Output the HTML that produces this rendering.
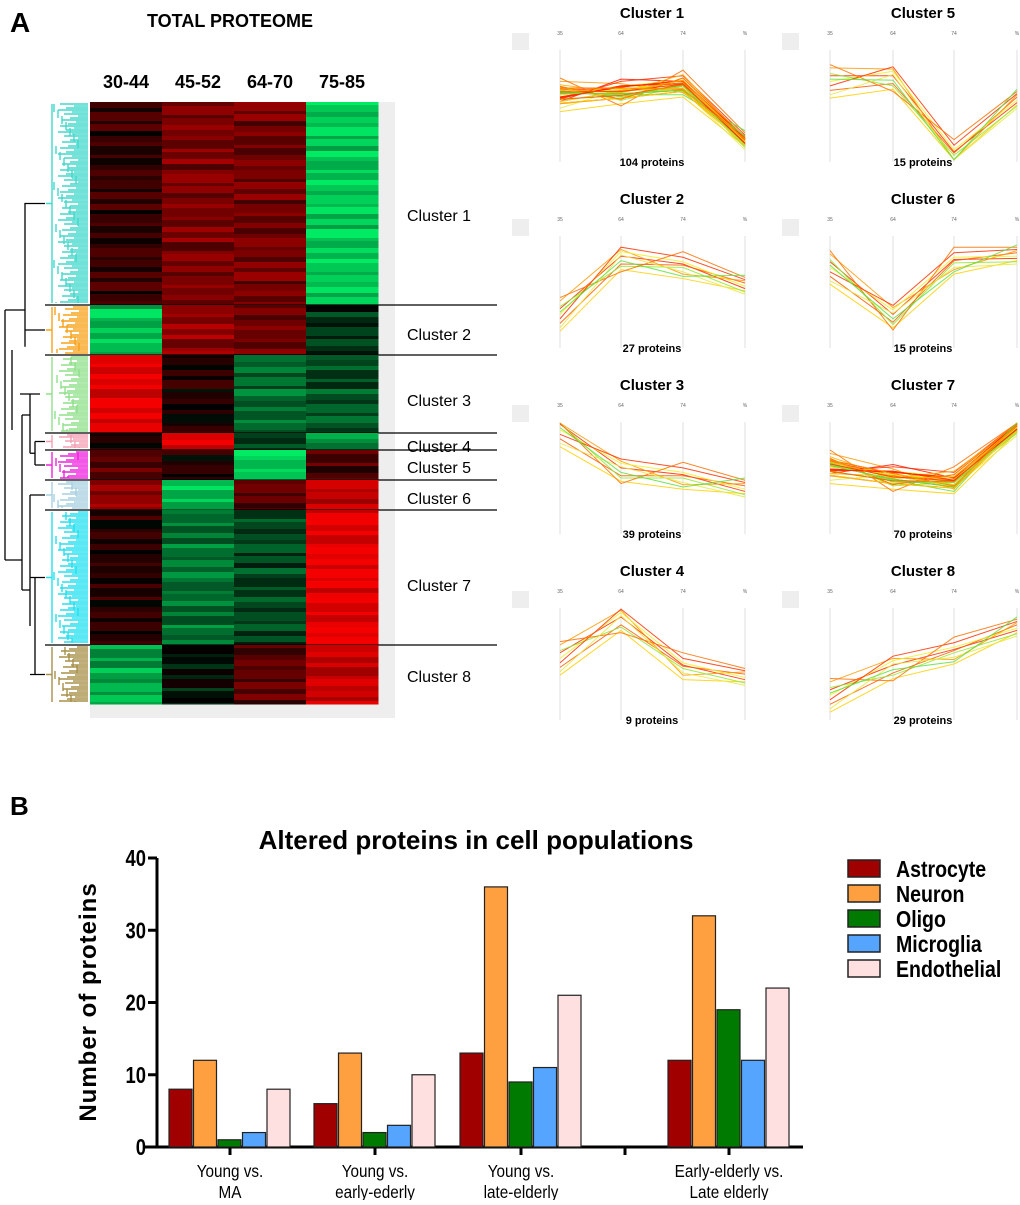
<!DOCTYPE html>
<html><head><meta charset="utf-8"><style>
body{margin:0;background:#fff}
svg text{font-family:"Liberation Sans",sans-serif}
</style></head><body>
<svg id="fig" width="1020" height="1200" viewBox="0 0 1020 1200" xmlns="http://www.w3.org/2000/svg">
<text x="10" y="32" font-size="28" font-weight="bold">A</text>
<text x="230" y="27" font-size="18" font-weight="bold" text-anchor="middle">TOTAL PROTEOME</text>
<g id="heat"></g>
<g id="dend"></g>
<g id="prof"></g>
<text x="10" y="815" font-size="26" font-weight="bold">B</text>
<text x="476" y="849" font-size="26" font-weight="bold" text-anchor="middle">Altered proteins in cell populations</text>
<text transform="translate(96,1002) rotate(-90)" font-size="24" font-weight="bold" text-anchor="middle" letter-spacing="1">Number of proteins</text>
<g id="bars"></g>
</svg>
<script>
// ---------- Heatmap data ----------
const colHeaders=["30-44","45-52","64-70","75-85"];
const clusterNames=["Cluster 1","Cluster 2","Cluster 3","Cluster 4","Cluster 5","Cluster 6","Cluster 7","Cluster 8"];
const clusterBounds=[102,305,355,433,450,480,510,645,704];
const clusterLabelY=[216,335,401,447,468,499,586,677];
// base expression per cluster per column (-1 green .. +1 red)
const clusterExpr=[[0.2,0.5,0.45,-0.85],[-0.8,0.6,0.45,-0.2],[0.95,0.1,-0.45,-0.35],[0.1,0.95,-0.3,-0.6],[0.35,0.1,-0.9,0.3],[0.6,-0.85,0.35,0.75],[0.15,-0.5,-0.3,0.95],[-0.7,-0.1,0.35,0.8]];
const clusterColors=["#40d8cc","#f7a21a","#8fe08a","#f4a0b4","#ee22dd","#a8d0e0","#22e0f0","#a8904a"];
const stripeVar=[0.1,-0.2,0.25,-0.1,0.3,-0.3,0.05,0.2,-0.15,0.15,-0.25,0.0,0.2,-0.05];
// ---------- Profile data ----------
const profMeans=[[0.6,0.62,0.68,0.18],[0.3,0.8,0.72,0.55],[0.93,0.57,0.5,0.4],[0.55,0.9,0.46,0.38],[0.72,0.75,0.06,0.55],[0.72,0.28,0.76,0.82],[0.6,0.5,0.46,0.95],[0.22,0.47,0.6,0.82]];
const proteinCounts=[104,27,39,9,15,15,70,29];
const lineOffsets=[[0.05,0.02,0.03,-0.02],[-0.08,-0.05,0.02,0.03],[0.12,0.08,-0.06,0.05],[-0.15,-0.1,-0.1,-0.04],[0.0,0.06,0.05,0.0],[0.07,-0.07,0.0,-0.05],[-0.04,0.1,0.09,0.06],[0.15,-0.12,0.14,0.08],[-0.12,0.03,-0.04,-0.07],[0.02,-0.02,-0.08,0.1],[-0.06,0.12,0.04,-0.03],[0.09,0.0,0.1,0.02]];
const lineColors=["#ff2a00","#ff5a00","#ff9a00","#ffd000","#f0f020","#90e830","#ff3000","#ff7000","#e8e840","#60e040","#ff1a00","#ffb000"];
// ---------- Bar chart data ----------
const groups=[["Young vs.","MA"],["Young vs.","early-ederly"],["Young vs.","late-elderly"],["Early-elderly vs.","Late elderly"]];
const series=["Astrocyte","Neuron","Oligo","Microglia","Endothelial"];
const seriesColors=["#a00000","#ffa040","#007a00","#55a5ff","#ffe0e0"];
const astrocyte=[8,6,13,12];
const neuron=[12,13,36,32];
const oligo=[1,2,9,19];
const microglia=[2,3,11,12];
const endothelial=[8,10,21,22];
const yTicks=[0,10,20,30,40];
const NS="http://www.w3.org/2000/svg";
function mk(p,tag,at){const e=document.createElementNS(NS,tag);for(const k in at)e.setAttribute(k,at[k]);p.appendChild(e);return e;}
function exprColor(v){v=Math.max(-1,Math.min(1,v));if(v>=0)return `rgb(${Math.round(245*v)},0,0)`;return `rgb(0,${Math.round(235*-v)},${Math.round(100*-v)})`;}
// heatmap
const heat=document.getElementById('heat');
let r=mk(heat,'rect',{x:90,y:102,width:305,height:616,fill:'#eeeeee'});


colHeaders.forEach((h,i)=>{const t=mk(heat,'text',{x:126+72*i,y:88,'font-size':18,'font-weight':'bold','text-anchor':'middle'});t.textContent=h;

});
let k=0;
for(let c=0;c<8;c++){const y0=clusterBounds[c],y1=clusterBounds[c+1];
 for(let col=0;col<4;col++){let y=y0;let j=0;while(y<y1){const hgt=Math.min(y1-y,[6,4,9,3,7,5][(j+col+c)%6]);
  const v=clusterExpr[c][col]+stripeVar[(k++)%stripeVar.length]*0.6;
  const s=mk(heat,'rect',{x:90+72*col,y:y,width:72.5,height:hgt+0.5,fill:exprColor(v)});
  
  
  y+=hgt;j++;}}
 const t=mk(heat,'text',{x:407,y:clusterLabelY[c]+5,'font-size':16});t.textContent=clusterNames[c];
 
 
 if(c<7){const l=mk(heat,'line',{x1:45,x2:497,y1:clusterBounds[c+1],y2:clusterBounds[c+1],stroke:'#000','stroke-width':1.3});
 
 }
}
// dendrogram
const dend=document.getElementById('dend');
const mids=[];
for(let c=0;c<8;c++){const y0=clusterBounds[c]+2,y1=clusterBounds[c+1]-2;const col=clusterColors[c];
 const g=mk(dend,'g',{stroke:col,'stroke-width':1.4,fill:'none'});
 
 
 const left=46;
 for(let y=y0;y<=y1;y+=2){const x=58+((y*7)%22);mk(g,'line',{x1:x,x2:88,y1:y,y2:y});}
 for(let y=y0;y<y1;y+=6){const x=54+((y*5)%26);mk(g,'path',{d:`M${x} ${y}V${Math.min(y+8,y1)}`});}
 mk(g,'path',{d:`M${left+6} ${y0}V${y1}M${left} ${(y0+y1)/2}H${left+6}`});
 mids.push((y0+y1)/2);}
const bt=mk(dend,'path',{d:`M45 ${mids[0]}H25V${(mids[0]+mids[1])/2+80}M25 ${mids[1]}H45M20 ${mids[2]}H40M35 ${mids[3]}H45M35 ${mids[4]}H45M35 ${mids[3]}V${mids[4]}M30 ${(mids[3]+mids[4])/2}H35M30 ${mids[2]}V${(mids[3]+mids[4])/2}M30 ${mids[5]}H45M30 ${mids[6]}H45M30 ${mids[7]}H45M35 ${mids[6]}V${mids[7]}M30 ${mids[5]}V${(mids[6]+mids[7])/2}M22 ${415}V${590}M22 ${415}H30M22 ${590}H30M5 ${310}H25M5 ${310}V${560}M5 ${560}H22M12 ${350}V${430}`,stroke:'#000','stroke-width':1.3,fill:'none'});


// profiles
const prof=document.getElementById('prof');
const axisL=[560,621,683,745],axisR=[830,893,954,1017];
[0,1,2,3,4,5,6,7].forEach(c=>{const colR=c>=4,row=c%4;const ax=colR?axisR:axisL;const top=50+row*186,bot=top+112;const cx=colR?923:652;
 const g=mk(prof,'g',{});
 
 
 const t=mk(g,'text',{x:cx,y:top-32,'font-size':15,'font-weight':'bold','text-anchor':'middle'});t.textContent="Cluster "+(c+1);
 
 
 mk(g,'rect',{x:ax[0]-48,y:top-17,width:17,height:17,fill:'#eee'});
 ["35","64","74","%"].forEach((s,i)=>{const tt=mk(g,'text',{x:ax[i],y:top-15,'font-size':5,fill:'#666','text-anchor':'middle'});tt.textContent=s;});
 ax.forEach(x=>mk(g,'line',{x1:x,x2:x,y1:top,y2:bot,stroke:'#e4e4e4','stroke-width':1.2}));
 const n=c===0||c===6?12:(c===3?9:10);
 const reps=c===0||c===6?4:1;
 for(let rep=0;rep<reps;rep++)for(let i=0;i<n;i++){const off=lineOffsets[(i+rep*5)%12];
  const pts=profMeans[c].map((m,j)=>`${ax[j]},${bot-Math.max(0.02,Math.min(0.99,m+off[j]*(rep?0.5:1)))*112}`);
  const pl=mk(g,'polyline',{points:pts.join(' '),fill:'none',stroke:lineColors[(i+rep)%12],'stroke-width':1,opacity:0.85});
  
  }
 const pt=mk(g,'text',{x:cx,y:bot+4,'font-size':11,'font-weight':'bold','text-anchor':'middle'});pt.textContent=proteinCounts[c]+" proteins";
 
 
});
// bar chart
const bars=document.getElementById('bars');
const y0=1147,yTop=858,yMax=40;
const Y=v=>y0-(v/yMax)*(y0-yTop);
const centers=[230,375,521,729];
const vals=[astrocyte,neuron,oligo,microglia,endothelial];
let ax=mk(bars,'path',{d:`M157 ${yTop}V${y0}M145 ${y0}H803M625 ${y0}V${y0+8}`,stroke:'#000','stroke-width':3,fill:'none'});


yTicks.forEach(v=>{const l=mk(bars,'line',{x1:148,x2:157,y1:Y(v),y2:Y(v),stroke:'#000','stroke-width':3});
 
 
 const t=mk(bars,'text',{transform:`translate(146,${Y(v)+8}) scale(0.8,1)`,'font-size':23,'font-weight':'bold','text-anchor':'end'});t.textContent=v;
 
 });
groups.forEach((gl,gi)=>{const cx=centers[gi];
 const tk=mk(bars,'line',{x1:cx,x2:cx,y1:y0,y2:y0+8,stroke:'#000','stroke-width':3});
 
 
 vals.forEach((arr,si)=>{const x=cx-61+si*24.5;
  const b=mk(bars,'rect',{x:x,y:Y(arr[gi]),width:23,height:y0-Y(arr[gi]),fill:seriesColors[si],stroke:'#222','stroke-width':1.2});
  
  });
 gl.forEach((s,li)=>{const t=mk(bars,'text',{transform:`translate(${cx},${1177+li*21}) scale(0.85,1)`,'font-size':18,'text-anchor':'middle'});t.textContent=s;
  
  });});
series.forEach((s,i)=>{const y=860+i*25;
 const sw=mk(bars,'rect',{x:848,y:y,width:32,height:17,fill:seriesColors[i],stroke:'#222','stroke-width':1.5});
 
 
 const t=mk(bars,'text',{transform:`translate(896,${y+17}) scale(0.85,1)`,'font-size':23,'font-weight':'bold'});t.textContent=s;
 
 });
</script>
</body></html>
